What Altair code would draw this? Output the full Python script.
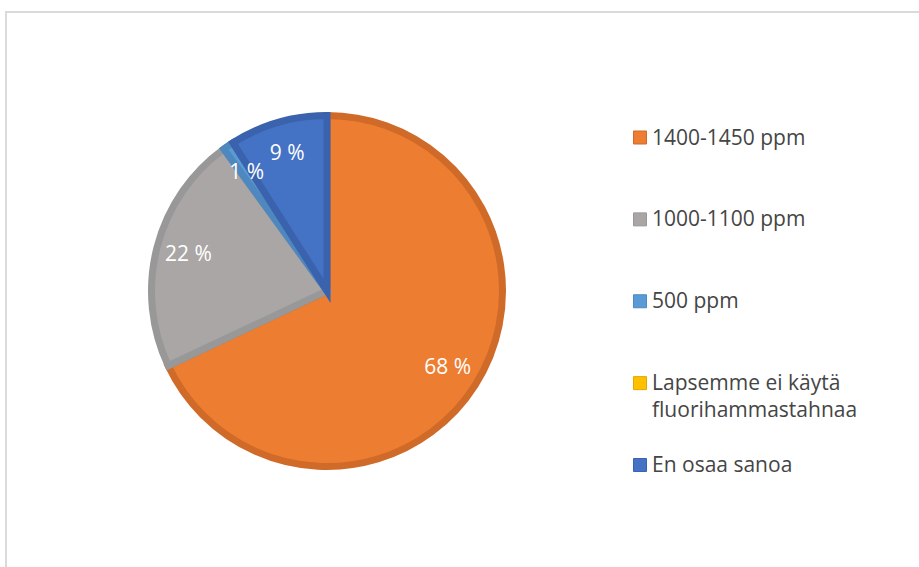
import altair as alt
import pandas as pd

categories = ["1400-1450 ppm", "1000-1100 ppm", "500 ppm",
              "Lapsemme ei käytä fluorihammastahnaa", "En osaa sanoa"]
values = [68, 22, 1, 0, 9]
legend_labels = ["1400-1450 ppm", "1000-1100 ppm", "500 ppm",
                 "Lapsemme ei käytä\nfluorihammastahnaa", "En osaa sanoa"]
fill_colors = ["#ED7D31", "#A9A6A5", "#5B9BD5", "#FFC000", "#4472C4"]
stroke_colors = ["#D06A28", "#989898", "#4E88BE", "#E0A800", "#3A62AD"]

df = pd.DataFrame({
    "cat": categories,
    "value": values,
    "order": list(range(len(categories))),
    "legend": legend_labels,
})

base = alt.Chart(df)

fill_scale = alt.Scale(domain=categories, range=fill_colors)
stroke_scale = alt.Scale(domain=categories, range=stroke_colors)

CX, CY = 327, 291

pie = base.transform_filter("datum.value > 0").mark_arc(
    outerRadius=175.5, strokeWidth=7
).encode(
    theta=alt.Theta("value:Q", stack=True),
    order=alt.Order("order:Q", sort="ascending"),
    color=alt.Color("cat:N", scale=fill_scale, legend=None),
    stroke=alt.Stroke("cat:N", scale=stroke_scale, legend=None),
    x=alt.value(CX),
    y=alt.value(CY),
)

labels = base.transform_filter("datum.value > 0").transform_calculate(
    label="datum.value + ' %'"
).mark_text(
    radius=143, font="Open Sans", fontSize=21, color="white"
).encode(
    theta=alt.Theta("value:Q", stack=True),
    order=alt.Order("order:Q", sort="ascending"),
    text="label:N",
    x=alt.value(CX),
    y=alt.value(CY),
)

legend_y = alt.Y("cat:N", scale=alt.Scale(domain=categories, range=[137.5, 465], padding=0), axis=None)

leg_sym = base.mark_square(size=169, strokeWidth=1, opacity=1).encode(
    x=alt.value(640),
    y=legend_y,
    color=alt.Color("cat:N", scale=fill_scale, legend=None),
    stroke=alt.Stroke("cat:N", scale=stroke_scale, legend=None),
)

leg_txt = base.mark_text(
    align="left", baseline="alphabetic", dy=7, lineBreak="\n", lineHeight=27,
    font="Open Sans", fontSize=21, color="#454545"
).encode(
    x=alt.value(652),
    y=legend_y,
    text="legend:N",
)

border_top = base.mark_rule(color="#DADADA", strokeWidth=2).encode(
    x=alt.value(5), x2=alt.value(919), y=alt.value(12)
)
border_left = base.mark_rule(color="#DADADA", strokeWidth=2).encode(
    x=alt.value(6), y=alt.value(11), y2=alt.value(567)
)

chart = alt.layer(border_top, border_left, pie, labels, leg_sym, leg_txt).properties(
    width=919, height=567, autosize=alt.AutoSizeParams(type="none"), padding=0,
    background="white",
).configure_view(stroke=None)

chart.save("out.html", embed_options={"renderer": "svg", "actions": False})
